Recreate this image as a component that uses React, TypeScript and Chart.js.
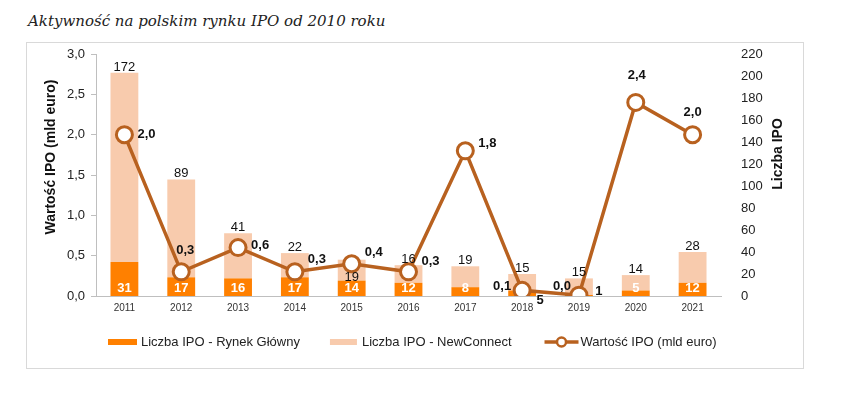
import { useEffect, useRef } from "react";
import { Chart, registerables } from "chart.js";

Chart.register(...registerables);

const years = ["2011", "2012", "2013", "2014", "2015", "2016", "2017", "2018", "2019", "2020", "2021"];
const mainMarket = [31, 17, 16, 17, 14, 12, 8, 5, 1, 5, 12];
const newConnect = [172, 89, 41, 22, 19, 16, 19, 15, 15, 14, 28];
const ipoValue = [2.0, 0.3, 0.6, 0.3, 0.4, 0.3, 1.8, 0.07, 0.01, 2.4, 2.0];

const seriesNames = ["Liczba IPO - Rynek Główny", "Liczba IPO - NewConnect", "Wartość IPO (mld euro)"];
const leftTitle = "Wartość IPO (mld euro)";
const rightTitle = "Liczba IPO";
const chartTitle = "Aktywność na polskim rynku IPO od 2010 roku";

const C_MAIN = "#FF8000";
const C_NC = "#F8CBAD";
const C_LINE = "#B8611F";
const FONT = '"Liberation Sans", Arial, sans-serif';

const fmt = (v: number) => v.toFixed(1).replace(".", ",");

// label placement offsets for the line values (dx, dy, align)
const valueLabelPlace: [number, number, CanvasTextAlign][] = [
  [13, 0, "left"],
  [4, -21, "center"],
  [13, -2, "left"],
  [13, -12, "left"],
  [13, -11, "left"],
  [13, -10, "left"],
  [13, -7, "left"],
  [-11, -4, "right"],
  [-8, -9, "right"],
  [1, -27, "center"],
  [0, -22, "center"],
];

const labelPlugin = {
  id: "customLabels",
  afterDatasetsDraw(chart: any) {
    const ctx = chart.ctx as CanvasRenderingContext2D;
    const m0 = chart.getDatasetMeta(0);
    const m1 = chart.getDatasetMeta(1);
    const m2 = chart.getDatasetMeta(2);
    const base = chart.scales.y1.getPixelForValue(0);
    ctx.save();
    // NewConnect totals
    ctx.font = `13px ${FONT}`;
    ctx.fillStyle = "#111";
    ctx.textAlign = "center";
    m1.data.forEach((bar: any, i: number) => {
      if (i === 4) {
        ctx.textBaseline = "middle";
        ctx.fillText(String(newConnect[i]), bar.x, bar.y + 18);
      } else {
        ctx.textBaseline = "bottom";
        ctx.fillText(String(newConnect[i]), bar.x, bar.y + 1);
      }
    });
    // Main market counts
    ctx.font = `bold 13px ${FONT}`;
    ctx.textBaseline = "middle";
    m0.data.forEach((bar: any, i: number) => {
      if (i === 7 || i === 8) {
        ctx.fillStyle = "#111";
        ctx.textAlign = "center";
        const dy = i === 7 ? 4 : -5;
        const dx = i === 7 ? 18 : 20;
        ctx.fillText(String(mainMarket[i]), bar.x + dx, base + dy);
      } else {
        ctx.fillStyle = "#fff";
        ctx.textAlign = "center";
        ctx.fillText(String(mainMarket[i]), bar.x, base - 8);
      }
    });
    // Line values
    ctx.fillStyle = "#111";
    m2.data.forEach((pt: any, i: number) => {
      const [dx, dy, al] = valueLabelPlace[i];
      ctx.textAlign = al;
      ctx.fillText(fmt(ipoValue[i]), pt.x + dx, pt.y + dy);
    });
    ctx.restore();
  },
  afterDraw(chart: any) {
    const ctx = chart.ctx as CanvasRenderingContext2D;
    // axis titles
    const drawRot = (text: string, x: number, y: number) => {
      ctx.save();
      ctx.font = `bold 14px ${FONT}`;
      ctx.fillStyle = "#111";
      ctx.textAlign = "center";
      ctx.textBaseline = "middle";
      ctx.translate(x, y);
      ctx.rotate(-Math.PI / 2);
      ctx.fillText(text, 0, 0);
      ctx.restore();
    };
    drawRot(leftTitle, 24, 114);
    drawRot(rightTitle, 751, 111);

    // legend
    ctx.save();
    ctx.font = `13px ${FONT}`;
    ctx.fillStyle = "#222";
    ctx.textAlign = "left";
    ctx.textBaseline = "middle";
    const ly = 299;
    let x = 81;
    const ds = chart.data.datasets;
    // item 1
    ctx.fillStyle = ds[0].backgroundColor;
    ctx.fillRect(x, ly - 3, 29, 6);
    x += 33;
    ctx.fillStyle = "#222";
    ctx.fillText(seriesNames[0], x, ly);
    x += ctx.measureText(seriesNames[0]).width + 30;
    // item 2
    ctx.fillStyle = ds[1].backgroundColor;
    ctx.fillRect(x, ly - 3, 27, 6);
    x += 32;
    ctx.fillStyle = "#222";
    ctx.fillText(seriesNames[1], x, ly);
    x += ctx.measureText(seriesNames[1]).width + 33;
    // item 3
    ctx.strokeStyle = ds[2].borderColor;
    ctx.lineWidth = 3.5;
    ctx.beginPath();
    ctx.moveTo(x, ly);
    ctx.lineTo(x + 34, ly);
    ctx.stroke();
    ctx.beginPath();
    ctx.arc(x + 17, ly, 4.5, 0, Math.PI * 2);
    ctx.fillStyle = "#fff";
    ctx.fill();
    ctx.lineWidth = 2.5;
    ctx.stroke();
    x += 36;
    ctx.fillStyle = "#222";
    ctx.fillText(seriesNames[2], x, ly);
    ctx.restore();
  },
};

export default function App() {
  const ref = useRef<HTMLCanvasElement>(null);
  useEffect(() => {
    if (!ref.current) return;
    const chart = new Chart(ref.current, {
      type: "bar",
      data: {
        labels: years,
        datasets: [
          {
            type: "bar",
            label: seriesNames[0],
            data: mainMarket,
            backgroundColor: C_MAIN,
            yAxisID: "y1",
            order: 2,
            barPercentage: 0.98,
            categoryPercentage: 0.5,
          },
          {
            type: "bar",
            label: seriesNames[1],
            data: newConnect,
            backgroundColor: C_NC,
            yAxisID: "y1",
            order: 2,
            barPercentage: 0.98,
            categoryPercentage: 0.5,
          },
          {
            type: "line",
            label: seriesNames[2],
            data: ipoValue,
            borderColor: C_LINE,
            borderWidth: 3.5,
            pointRadius: 8,
            pointBorderWidth: 3,
            pointBackgroundColor: "#fff",
            pointBorderColor: C_LINE,
            yAxisID: "y",
            order: 1,
            tension: 0,
          } as any,
        ],
      },
      options: {
        animation: false,
        responsive: true,
        maintainAspectRatio: false,
        layout: { padding: { top: 0, left: 0, right: 0, bottom: 0 } },
        plugins: {
          tooltip: { enabled: false },
          title: { display: false },
          legend: { display: false },
        },
        scales: {
          x: {
            stacked: true,
            grid: { display: false, drawTicks: false },
            border: { display: true, color: "#BFBFBF", width: 1 },
            ticks: { color: "#333", font: { family: FONT, size: 10 }, padding: 6 },
            afterFit: (s: any) => {
              s.height = 72;
            },
          },
          y: {
            position: "left",
            min: 0,
            max: 3,
            ticks: {
              stepSize: 0.5,
              color: "#222",
              font: { family: FONT, size: 13 },
              padding: 6,
              callback: (v: any) => fmt(Number(v)),
            },
            grid: { display: true, drawOnChartArea: false, drawTicks: true, tickLength: 5, color: "#BFBFBF" },
            border: { display: true, color: "#BFBFBF" },
            afterFit: (s: any) => {
              s.width = 69;
              s.paddingTop = 9;
              s.paddingBottom = 0;
            },
          },
          y1: {
            position: "right",
            stacked: true,
            min: 0,
            max: 220,
            ticks: { stepSize: 20, color: "#222", font: { family: FONT, size: 13 }, padding: 12 },
            grid: { display: false },
            border: { display: false },
            afterFit: (s: any) => {
              s.width = 82;
              s.paddingTop = 9;
              s.paddingBottom = 0;
            },
          },
        },
      },
      plugins: [labelPlugin],
    });
    return () => chart.destroy();
  }, []);

  return (
    <div style={{ position: "absolute", left: 0, top: 0, width: 847, height: 403, background: "#fff" }}>
      <div
        style={{
          position: "absolute",
          left: 28,
          top: 12,
          fontFamily: '"DejaVu Serif", serif',
          fontStyle: "italic",
          fontSize: 15,
          color: "#222",
          whiteSpace: "nowrap",
        }}
      >
        {chartTitle}
      </div>
      <div
        style={{
          position: "absolute",
          left: 26,
          top: 42,
          width: 776,
          height: 325,
          border: "1px solid #D9D9D9",
        }}
      >
        <canvas ref={ref} />
      </div>
    </div>
  );
}
